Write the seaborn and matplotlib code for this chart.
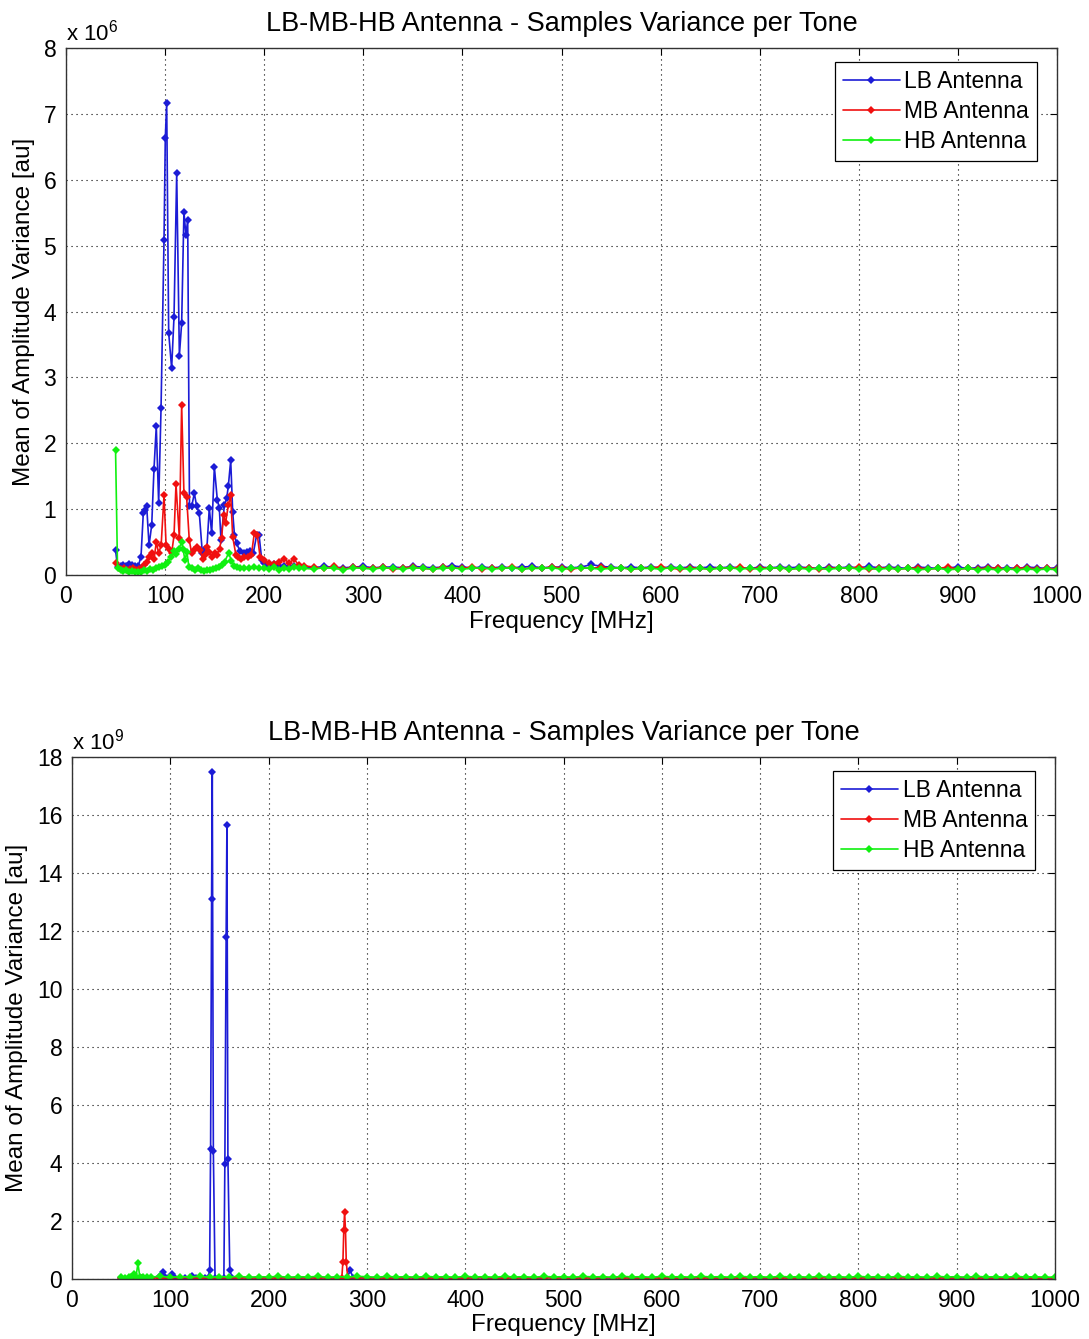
import numpy as np
import pandas as pd
import matplotlib
matplotlib.use("Agg")
import matplotlib.pyplot as plt
import seaborn as sns

# ---------------- data: top panel (values in units of 1e6) ----------------
top_lb_freq = [50, 52, 55, 58, 61, 64, 67, 70, 73, 75.7, 78, 80, 81.4, 83.8, 86.5, 88.8, 91.1, 93.5,
               95.9, 98.9, 100.2, 101.6, 103.6, 106.6, 109, 111.7, 114.4, 116.7, 119, 121, 122.8,
               124.6, 126.8, 129.5, 131.9, 134.5, 137.6, 140, 142, 144.6, 147, 149.7, 152.7, 154.7,
               156.4, 159.8, 162.2, 163.8, 166.2, 168.2, 170, 172.2, 175.6, 180, 183, 185.7, 189,
               192.4, 194.8, 197.5, 200, 203, 206, 210, 215, 220, 225, 230, 235]
top_lb_val = [0.38, 0.12, 0.13, 0.15, 0.14, 0.16, 0.15, 0.13, 0.14, 0.28, 0.94, 0.98, 1.05, 0.45, 0.76,
              1.61, 2.26, 1.09, 2.53, 5.08, 6.63, 7.17, 3.68, 3.14, 3.92, 6.10, 3.33, 3.82, 5.51, 5.16,
              5.39, 1.05, 1.04, 1.24, 1.04, 0.94, 0.33, 0.40, 0.36, 1.02, 0.63, 1.64, 1.14, 1.02, 0.53,
              1.06, 1.17, 1.35, 1.74, 0.96, 0.60, 0.48, 0.36, 0.33, 0.35, 0.36, 0.33, 0.61, 0.61, 0.23,
              0.18, 0.15, 0.14, 0.16, 0.13, 0.14, 0.12, 0.13, 0.12]

top_mb_freq = [50, 53, 56, 59, 62, 65, 68, 71, 74, 77, 79, 81.4, 84, 86.5, 89, 91.1, 93.5, 96, 98.9,
               101, 103.6, 106.6, 109, 111, 114.4, 116.7, 119, 121.7, 124.4, 126.8, 129.5, 131.9,
               135, 138, 140, 142, 144.6, 147, 150, 152, 155, 157, 159, 161, 163.8, 166.2, 168.2,
               171.5, 174, 177, 180, 184, 187, 190, 193, 195.8, 200, 205, 210, 215, 220, 225, 230, 235]
top_mb_val = [0.18, 0.10, 0.09, 0.10, 0.08, 0.09, 0.10, 0.08, 0.09, 0.10, 0.15, 0.20, 0.28, 0.33, 0.25,
              0.50, 0.33, 0.45, 1.21, 0.45, 0.40, 0.33, 0.60, 1.38, 0.56, 2.58, 1.24, 1.19, 0.53, 0.33,
              0.38, 0.43, 0.38, 0.25, 0.30, 0.43, 0.35, 0.28, 0.33, 0.30, 0.40, 0.56, 0.91, 0.79, 1.06,
              1.21, 0.58, 0.30, 0.28, 0.25, 0.27, 0.28, 0.30, 0.63, 0.61, 0.28, 0.23, 0.18, 0.16, 0.20,
              0.25, 0.18, 0.24, 0.15]

top_hb_freq = [50, 52, 55, 58, 61, 64, 67, 70, 73, 76, 79, 82, 85, 88, 91, 94, 97, 100, 103, 106, 109,
               111.5, 114, 116.7, 118, 120, 122, 124, 127, 130, 133, 136, 139, 142, 145, 148, 151, 154,
               157, 160, 164, 167, 170, 173, 176, 180, 185, 190, 195, 200, 205, 210, 215, 220, 225,
               230, 235]
top_hb_val = [1.90, 0.10, 0.08, 0.06, 0.07, 0.05, 0.06, 0.05, 0.04, 0.05, 0.07, 0.06, 0.09, 0.08, 0.10,
              0.12, 0.13, 0.15, 0.20, 0.28, 0.36, 0.32, 0.40, 0.50, 0.40, 0.23, 0.35, 0.12, 0.10, 0.08,
              0.10, 0.08, 0.06, 0.08, 0.07, 0.09, 0.10, 0.12, 0.15, 0.20, 0.33, 0.22, 0.13, 0.12, 0.11,
              0.10, 0.10, 0.12, 0.10, 0.11, 0.09, 0.12, 0.08, 0.11, 0.09, 0.12, 0.10]

top_tail_freq = np.arange(240, 1001, 10)
top_lb_tail = [0.12, 0.11, 0.13, 0.12, 0.11, 0.12, 0.13, 0.11, 0.12, 0.12,
               0.11, 0.13, 0.12, 0.11, 0.12, 0.14, 0.12, 0.11, 0.12, 0.11,
               0.12, 0.11, 0.12, 0.13, 0.11, 0.12, 0.12, 0.11, 0.12, 0.16,
               0.13, 0.12, 0.11, 0.12, 0.11, 0.12, 0.11, 0.12, 0.11, 0.12,
               0.11, 0.12, 0.11, 0.12, 0.11, 0.10, 0.12, 0.11, 0.12, 0.11,
               0.12, 0.11, 0.10, 0.12, 0.11, 0.12, 0.11, 0.13, 0.11, 0.12,
               0.11, 0.10, 0.12, 0.11, 0.10, 0.11, 0.12, 0.10, 0.11, 0.12,
               0.10, 0.11, 0.10, 0.12, 0.11, 0.10, 0.11]
top_mb_tail = [0.14, 0.12, 0.10, 0.13, 0.09, 0.12, 0.11, 0.10, 0.12, 0.09,
               0.11, 0.12, 0.10, 0.09, 0.12, 0.11, 0.10, 0.12, 0.09, 0.11,
               0.10, 0.12, 0.09, 0.11, 0.10, 0.12, 0.11, 0.09, 0.11, 0.10,
               0.12, 0.10, 0.11, 0.09, 0.10, 0.11, 0.12, 0.10, 0.09, 0.11,
               0.10, 0.09, 0.11, 0.10, 0.12, 0.09, 0.11, 0.10, 0.11, 0.09,
               0.10, 0.11, 0.09, 0.10, 0.11, 0.10, 0.12, 0.09, 0.10, 0.11,
               0.09, 0.10, 0.11, 0.09, 0.10, 0.12, 0.09, 0.10, 0.09, 0.11,
               0.10, 0.09, 0.10, 0.11, 0.09, 0.10, 0.09]
top_hb_tail = [0.10, 0.09, 0.11, 0.10, 0.08, 0.11, 0.10, 0.09, 0.11, 0.10,
               0.09, 0.11, 0.10, 0.09, 0.10, 0.11, 0.09, 0.10, 0.11, 0.09,
               0.10, 0.11, 0.09, 0.10, 0.10, 0.11, 0.09, 0.10, 0.11, 0.10,
               0.09, 0.10, 0.11, 0.09, 0.10, 0.10, 0.09, 0.11, 0.10, 0.09,
               0.10, 0.09, 0.10, 0.11, 0.09, 0.10, 0.09, 0.10, 0.11, 0.09,
               0.10, 0.09, 0.10, 0.09, 0.10, 0.11, 0.09, 0.10, 0.09, 0.10,
               0.09, 0.10, 0.08, 0.09, 0.10, 0.08, 0.09, 0.10, 0.08, 0.09,
               0.08, 0.09, 0.08, 0.09, 0.08, 0.09, 0.08]

# ---------------- data: bottom panel (values in units of 1e9) ----------------
bot_lb_freq = [50, 60, 70, 80, 88, 92.2, 95, 98, 101.7, 105, 115, 122, 126, 135, 138.5, 140, 141, 142,
               142.7, 143.8, 145.5, 150, 154.5, 155.5, 156.8, 157.6, 158.6, 160.5, 163, 170, 180, 190,
               200, 210, 220, 230, 240, 250, 260, 270, 280, 283, 286, 290]
bot_lb_val = [0.04, 0.05, 0.04, 0.05, 0.06, 0.24, 0.08, 0.05, 0.18, 0.05, 0.04, 0.10, 0.04, 0.05, 0.05,
              0.30, 4.5, 13.1, 17.47, 4.4, 0.05, 0.04, 0.05, 3.97, 11.8, 15.64, 4.15, 0.30, 0.05, 0.04,
              0.05, 0.04, 0.05, 0.04, 0.05, 0.04, 0.05, 0.04, 0.05, 0.04, 0.05, 0.30, 0.05, 0.04]

bot_mb_freq = [50, 60, 70, 80, 90, 100, 110, 120, 130, 140, 150, 160, 170, 180, 190, 200, 210, 220,
               230, 240, 250, 260, 270, 274.5, 275.6, 276.5, 277.3, 278.2, 279, 280.5, 290]
bot_mb_val = [0.03, 0.04, 0.03, 0.04, 0.03, 0.04, 0.05, 0.04, 0.03, 0.04, 0.03, 0.04, 0.03, 0.04, 0.03,
              0.04, 0.03, 0.04, 0.03, 0.04, 0.03, 0.04, 0.03, 0.05, 0.6, 1.7, 2.31, 1.7, 0.6, 0.05, 0.04]

bot_hb_freq = [50, 54, 58, 60, 62.7, 65, 67.1, 69, 72, 76, 80, 90, 100, 110, 120, 130, 140, 150, 160,
               170, 180, 190, 200, 210, 220, 230, 240, 250, 260, 270, 280, 290]
bot_hb_val = [0.08, 0.05, 0.06, 0.07, 0.18, 0.06, 0.54, 0.07, 0.06, 0.08, 0.07, 0.09, 0.06, 0.08, 0.07,
              0.09, 0.06, 0.08, 0.07, 0.09, 0.06, 0.08, 0.07, 0.09, 0.06, 0.08, 0.07, 0.09, 0.06, 0.08,
              0.07, 0.09]

bot_tail_freq = np.arange(300, 1001, 10)
bot_lb_tail = [0.04, 0.05, 0.03, 0.04, 0.05, 0.04, 0.03, 0.05, 0.04, 0.03,
               0.04, 0.05, 0.04, 0.03, 0.04, 0.05, 0.04, 0.03, 0.04, 0.05,
               0.04, 0.03, 0.05, 0.04, 0.03, 0.04, 0.05, 0.04, 0.03, 0.04,
               0.05, 0.04, 0.03, 0.04, 0.05, 0.04, 0.03, 0.04, 0.05, 0.04,
               0.03, 0.04, 0.05, 0.04, 0.03, 0.04, 0.05, 0.04, 0.03, 0.04,
               0.05, 0.04, 0.03, 0.04, 0.05, 0.04, 0.03, 0.04, 0.05, 0.04,
               0.03, 0.04, 0.05, 0.04, 0.03, 0.04, 0.05, 0.04, 0.03, 0.04, 0.04]
bot_mb_tail = [0.03, 0.04, 0.03, 0.04, 0.03, 0.05, 0.03, 0.04, 0.03, 0.04,
               0.03, 0.04, 0.05, 0.03, 0.04, 0.03, 0.04, 0.03, 0.05, 0.03,
               0.04, 0.03, 0.04, 0.03, 0.04, 0.05, 0.03, 0.04, 0.03, 0.04,
               0.03, 0.04, 0.03, 0.05, 0.03, 0.04, 0.03, 0.04, 0.03, 0.04,
               0.05, 0.03, 0.04, 0.03, 0.04, 0.03, 0.04, 0.05, 0.03, 0.04,
               0.03, 0.04, 0.03, 0.04, 0.05, 0.03, 0.04, 0.03, 0.04, 0.03,
               0.04, 0.05, 0.03, 0.04, 0.03, 0.04, 0.03, 0.04, 0.03, 0.04, 0.03]
bot_hb_tail = [0.08, 0.06, 0.09, 0.07, 0.08, 0.06, 0.09, 0.07, 0.08, 0.06,
               0.09, 0.07, 0.08, 0.06, 0.09, 0.07, 0.08, 0.06, 0.09, 0.07,
               0.08, 0.06, 0.09, 0.07, 0.08, 0.06, 0.09, 0.07, 0.08, 0.06,
               0.09, 0.07, 0.08, 0.06, 0.09, 0.07, 0.08, 0.06, 0.09, 0.07,
               0.08, 0.06, 0.09, 0.07, 0.08, 0.06, 0.09, 0.07, 0.08, 0.06,
               0.09, 0.07, 0.08, 0.06, 0.09, 0.07, 0.08, 0.06, 0.09, 0.07,
               0.08, 0.06, 0.09, 0.07, 0.08, 0.06, 0.09, 0.07, 0.08, 0.06, 0.07]

series_names = ["LB Antenna", "MB Antenna", "HB Antenna"]
series_colors = ["#1c1cd6", "#f01010", "#10f010"]
title_text = "LB-MB-HB Antenna - Samples Variance per Tone"
x_label = "Frequency [MHz]"
y_label = "Mean of Amplitude Variance [au]"


def build(parts, tail_freq, tails):
    frames = []
    for name, (f, v), t in zip(series_names, parts, tails):
        frames.append(pd.DataFrame({"freq": list(f) + list(tail_freq),
                                    "value": list(v) + list(t),
                                    "series": name}))
    return pd.concat(frames, ignore_index=True)


top_df = build([(top_lb_freq, top_lb_val), (top_mb_freq, top_mb_val), (top_hb_freq, top_hb_val)],
               top_tail_freq, [top_lb_tail, top_mb_tail, top_hb_tail])
bot_df = build([(bot_lb_freq, bot_lb_val), (bot_mb_freq, bot_mb_val), (bot_hb_freq, bot_hb_val)],
               bot_tail_freq, [bot_lb_tail, bot_mb_tail, bot_hb_tail])

sns.set_theme(style="white")
plt.rcParams["font.family"] = ["Liberation Sans", "DejaVu Sans"]
plt.rcParams["mathtext.fontset"] = "custom"
plt.rcParams["mathtext.rm"] = "Liberation Sans"
plt.rcParams["mathtext.it"] = "Liberation Sans"
plt.rcParams["text.color"] = "black"
plt.rcParams["axes.labelcolor"] = "black"

fig = plt.figure(figsize=(10.89, 13.39), dpi=100)
fig.patch.set_facecolor("white")
ax1 = fig.add_axes([66 / 1089, 1 - 575 / 1339, 991 / 1089, 527 / 1339])
ax2 = fig.add_axes([72 / 1089, 1 - 1279 / 1339, 983 / 1089, 522 / 1339])


def draw(ax, df, ymax, ystep, exponent):
    for name, col in zip(series_names, series_colors):
        sub = df[df["series"] == name]
        sns.lineplot(data=sub, x="freq", y="value", ax=ax, color=col, linewidth=1.2,
                     marker="D", markersize=3.8, markeredgewidth=0, estimator=None,
                     sort=True, label=name)
    ax.set_xlim(0, 1000)
    ax.set_ylim(0, ymax)
    ax.set_xticks(np.arange(0, 1001, 100))
    ax.set_yticks(np.arange(0, ymax + 0.1, ystep))
    ax.set_yticklabels([str(int(t)) for t in np.arange(0, ymax + 0.1, ystep)])
    ax.grid(True, linestyle=(0, (1, 3.5)), color="black", linewidth=0.8)
    ax.tick_params(direction="in", top=True, right=True, length=5, width=0.8,
                   labelsize=16.5, pad=7, colors="black")
    for s in ax.spines.values():
        s.set_color("#333333")
        s.set_linewidth(1.0)
    ax.set_title(title_text, fontsize=19.5, pad=12, color="black")
    ax.set_xlabel(x_label, fontsize=17.5, labelpad=2, color="black")
    ax.set_ylabel(y_label, fontsize=17.5, labelpad=6, color="black")
    ax.text(0.0, 1.004, r"x 10$^{%d}$" % exponent, transform=ax.transAxes,
            ha="left", va="bottom", fontsize=16, color="black")
    leg = ax.legend(loc="upper right", bbox_to_anchor=(0.98, 0.973), borderaxespad=0,
                    fontsize=16.5, frameon=True, fancybox=False, edgecolor="black",
                    handlelength=2.5, handletextpad=0.2, labelspacing=0.3,
                    borderpad=0.35, framealpha=1)
    leg.get_frame().set_linewidth(0.9)
    for t in leg.get_texts():
        t.set_color("black")


draw(ax1, top_df, 8, 1, 6)
draw(ax2, bot_df, 18, 2, 9)

fig.savefig("out.png", dpi=100, facecolor="white")
